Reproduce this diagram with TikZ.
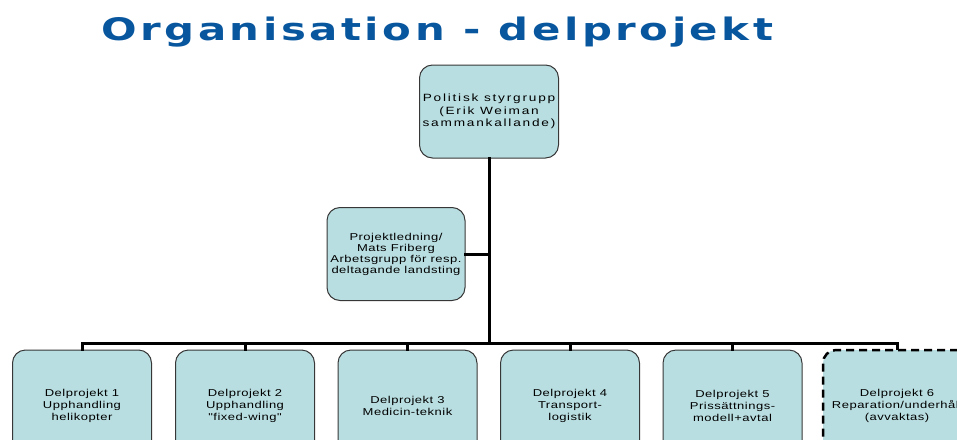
\documentclass[tikz,border=0pt]{standalone}
\usepackage{fontspec}
\usepackage{tikz}
\newfontfamily\titlefont[FakeStretch=1.35,LetterSpace=11.5]{DejaVu Sans Bold}
\newfontfamily\boxfont[FakeStretch=1.3,LetterSpace=5]{Liberation Sans}
\definecolor{titleblue}{RGB}{8,86,158}
\definecolor{boxfill}{RGB}{185,222,225}
\definecolor{boxline}{RGB}{55,55,55}

\begin{document}
\begin{tikzpicture}[x=1pt,y=-1pt,
    orgbox/.style={draw=boxline,line width=1pt,fill=boxfill,rounded corners=13pt,
      minimum width=139pt,minimum height=93pt,inner sep=2pt,align=center,
      font=\boxfont\fontsize{10}{12}\selectfont},
    link/.style={line width=3pt,line cap=rect}]
        \clip (0,0) rectangle (957,439);
        \node[anchor=base west,inner sep=0pt,text=titleblue,
          font=\titlefont\fontsize{31}{34}\selectfont] (title) at (101,40) {Organisation - delprojekt};
        % top and staff boxes
        \node[orgbox,font=\boxfont\addfontfeatures{LetterSpace=17}\fontsize{10.5}{12.5}\selectfont] (styr) at (489,111.5)
          {Politisk styrgrupp\\(Erik Weiman\\sammankallande)};
        \node[orgbox,minimum width=138pt,font=\boxfont\fontsize{10}{11}\selectfont] (ledning) at (396,254)
          {Projektledning/\\Mats Friberg\\Arbetsgrupp för resp.\\deltagande landsting};
        % delprojekt row
        \node[orgbox,minimum height=112pt] (dp1) at (82,406) {Delprojekt 1\\Upphandling\\helikopter};
        \node[orgbox,minimum height=112pt] (dp2) at (245,406) {Delprojekt 2\\Upphandling\\"fixed-wing"};
        \node[orgbox,minimum height=112pt] (dp3) at (407.5,406) {Delprojekt 3\\Medicin-teknik};
        \node[orgbox,minimum height=112pt] (dp4) at (570,406) {Delprojekt 4\\Transport-\\logistik};
        \node[orgbox,minimum height=112pt] (dp5) at (732.5,406) {Delprojekt 5\\Prissättnings-\\modell+avtal};
        \node[orgbox,minimum height=112pt,minimum width=148pt,draw=black,line width=2.5pt,
          dash pattern=on 8pt off 5pt] (dp6) at (897,406) {Delprojekt 6\\Reparation/underhåll\\(avvaktas)};
        % connectors
        \coordinate (bus) at (489,343);
        \draw[link] (styr.south) -- (styr.south |- bus);
        \draw[link] (ledning.east) -- (ledning.east -| styr.south);
        \draw[link] (dp1.north |- bus) -- (dp6.north |- bus);
        \foreach \n in {1,...,6}
          \draw[link] (dp\n.north |- bus) -- (dp\n.north);
\end{tikzpicture}
\end{document}
